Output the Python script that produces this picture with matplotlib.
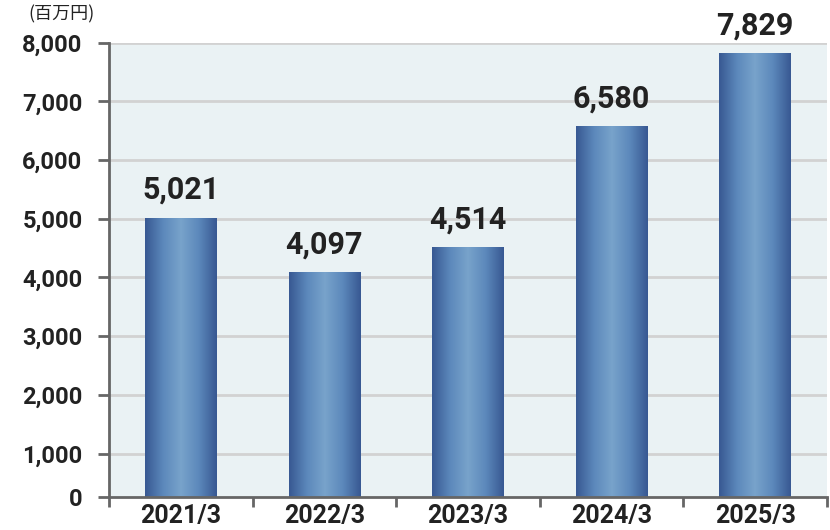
import matplotlib.pyplot as plt
import numpy as np
from matplotlib.colors import LinearSegmentedColormap

plt.rcParams['font.family'] = ['Roboto', 'Noto Sans CJK JP', 'DejaVu Sans']

# data
years = ["2021/3", "2022/3", "2023/3", "2024/3", "2025/3"]
sales = [5021, 4097, 4514, 6580, 7829]
tick_values = [1000, 2000, 3000, 4000, 5000, 6000, 7000, 8000]
unit_label = "(百万円)"

y_bottom = 259   # axis starts a bit above zero, bottom tick is labelled "0"
y_top = 8000

fig = plt.figure(figsize=(8.3, 5.3), dpi=100)
ax = fig.add_axes([109 / 830, 1 - 497 / 530, 718 / 830, 454.3 / 530])
ax.set_facecolor('#eaf2f4')

x = np.arange(len(years))
bars = ax.bar(x, sales, width=0.5, color='none', zorder=3)

# horizontal gradient inside every bar
cmap = LinearSegmentedColormap.from_list('bar', ['#385892', '#5c88bb', '#78a3cb', '#5c88bb', '#385892'])
grad = np.linspace(0, 1, 256).reshape(1, -1)
for b in bars:
    x0, w, h = b.get_x(), b.get_width(), b.get_height()
    im = ax.imshow(grad, cmap=cmap, aspect='auto', extent=[x0, x0 + w, y_bottom, h],
                   zorder=3, interpolation='bicubic')
    im.set_clip_path(b)

for xi, v in zip(x, sales):
    ax.annotate(f"{v:,}", (xi, v), xytext=(0, 9), textcoords='offset points',
                ha='center', va='bottom', fontsize=22, fontweight='semibold',
                color='#222222', zorder=4)

ax.set_xlim(-0.5, len(years) - 0.5)
ax.set_ylim(y_bottom, y_top)

ax.set_yticks([y_bottom] + tick_values)
ax.set_yticklabels(["0"] + [f"{t:,}" for t in tick_values], fontsize=17, fontweight='bold', color='#222222')
ax.tick_params(axis='y', length=8, width=2, color='#666666', pad=11)

ax.set_xticks(x)
ax.set_xticklabels(years, fontsize=18, fontweight='bold', color='#222222')
ax.tick_params(axis='x', length=0, pad=5)
ax.set_xticks(np.arange(len(years) + 1) - 0.5, minor=True)
ax.tick_params(axis='x', which='minor', length=7, width=2, color='#666666')

for t in tick_values:
    ax.axhline(t, color='#d2d2d2', lw=2, zorder=1)

for s in ['top', 'right']:
    ax.spines[s].set_visible(False)
for s in ['left', 'bottom']:
    ax.spines[s].set_color('#666666')
    ax.spines[s].set_linewidth(2)
    ax.spines[s].set_zorder(5)

fig.text(28 / 830, 1 - 14 / 530, unit_label, fontsize=13, color='#222222', va='center', ha='left',
         family=['Noto Sans CJK JP', 'DejaVu Sans'])

fig.savefig('out.png', dpi=100)
